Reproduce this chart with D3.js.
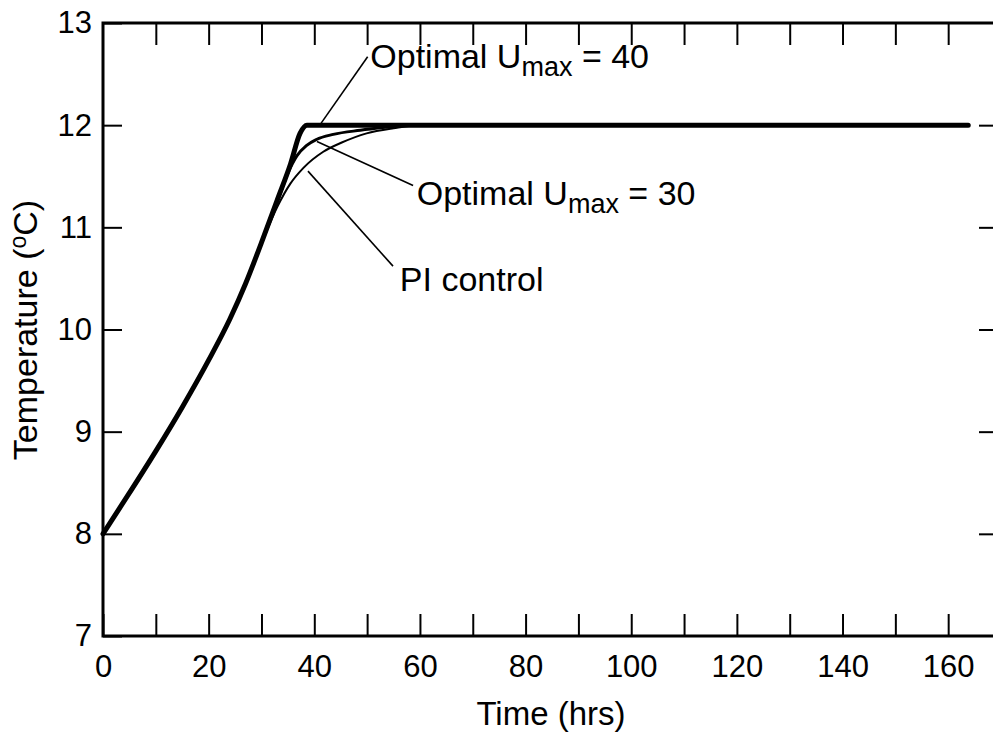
<!DOCTYPE html>
<html>
<head>
<meta charset="utf-8">
<script src="https://cdn.jsdelivr.net/npm/d3@7"></script>
<style>
  body { margin: 0; background: #fff; }
  svg { display: block; font-family: 'Liberation Sans', Arial, Helvetica, sans-serif; }
</style>
</head>
<body>
<svg id="chart"></svg>
<script>
// data: time (hrs) -> temperature (oC)
const optimal40Time = [0, 5, 10, 15, 20, 24, 27, 30, 33, 35.5, 37.3, 38.6, 50, 80, 110, 140, 163.8];
const optimal40Temp = [8, 8.4, 8.81, 9.24, 9.7, 10.1, 10.45, 10.85, 11.27, 11.62, 11.92, 12.0, 12.0, 12.0, 12.0, 12.0, 12.0];

const optimal30Time = [0, 5, 10, 15, 20, 24, 27, 30, 33, 35, 36.7, 38.5, 40.4, 43.6, 48.7, 53.7, 57.5, 80, 163.8];
const optimal30Temp = [8, 8.4, 8.81, 9.24, 9.7, 10.1, 10.45, 10.85, 11.25, 11.53, 11.7, 11.8, 11.86, 11.91, 11.95, 11.98, 12.0, 12.0, 12.0];

const piTime = [0, 5, 10, 15, 20, 24, 27, 30, 33, 35.5, 37.9, 41.7, 45.2, 49.9, 55, 60, 80, 163.8];
const piTemp = [8, 8.4, 8.81, 9.24, 9.7, 10.1, 10.45, 10.84, 11.2, 11.43, 11.58, 11.74, 11.83, 11.92, 11.97, 12.0, 12.0, 12.0];

const xTicks = d3.range(0, 170, 10);
const yTicks = [7, 8, 9, 10, 11, 12, 13];

// annotation leaders: [time, temp] of line start/end and label anchor
const notes = [
  { main: 'Optimal U', sub: 'max', tail: ' = 40', from: [41.3, 12.02], to: [50.1, 12.67], at: [50.6, 12.56] },
  { main: 'Optimal U', sub: 'max', tail: ' = 30', from: [40.5, 11.84], to: [58.7, 11.41], at: [59.4, 11.22] },
  { main: 'PI control', sub: '', tail: '', from: [38.8, 11.55], to: [54.9, 10.62], at: [56.2, 10.38] },
];

const width = 993, height = 742;
const svg = d3.select('#chart').attr('width', width).attr('height', height);

const x = d3.scaleLinear().domain([0, 170]).range([103, 1001]);
const y = d3.scaleLinear().domain([7, 13]).range([636, 23]);

// frame (right edge falls just outside the picture)
svg.append('rect')
  .attr('x', x(0)).attr('y', y(13))
  .attr('width', x(170) - x(0)).attr('height', y(7) - y(13))
  .attr('fill', 'none').attr('stroke', '#000').attr('stroke-width', 3);

const fmtX = (d) => (d % 20 === 0 ? d : '');

const axisB = svg.append('g')
  .attr('transform', `translate(0, ${y(7)})`)
  .call(d3.axisBottom(x).tickValues(xTicks).tickSizeInner(-22).tickSizeOuter(0).tickPadding(19).tickFormat(fmtX));

const axisT = svg.append('g')
  .attr('transform', `translate(0, ${y(13)})`)
  .call(d3.axisTop(x).tickValues(xTicks.slice(1)).tickSizeInner(-22).tickSizeOuter(0).tickFormat(''));

const axisL = svg.append('g')
  .attr('transform', `translate(${x(0)}, 0)`)
  .call(d3.axisLeft(y).tickValues(yTicks).tickSizeInner(-19).tickSizeOuter(0).tickPadding(11).tickFormat(d3.format('d')));

const axisR = svg.append('g')
  .attr('transform', `translate(${x(170)}, 0)`)
  .call(d3.axisRight(y).tickValues(yTicks.slice(1, -1)).tickSizeInner(-22).tickSizeOuter(0).tickFormat(''));

[axisB, axisT, axisL, axisR].forEach((g) => {
  g.attr('font-family', null);
  g.select('.domain').remove();
  g.selectAll('.tick line').attr('stroke', '#000').attr('stroke-width', 2);
  g.selectAll('.tick text').attr('font-size', 31).attr('fill', '#000');
});

// axis titles
svg.append('text')
  .attr('x', 551).attr('y', 725)
  .attr('text-anchor', 'middle')
  .attr('font-size', 33)
  .text('Time (hrs)');

const yTitle = svg.append('text')
  .attr('transform', 'translate(37, 330) rotate(-90)')
  .attr('text-anchor', 'middle')
  .attr('font-size', 34);
yTitle.append('tspan').text('Temperature (');
yTitle.append('tspan').attr('font-size', 23).attr('dy', -11).text('o');
yTitle.append('tspan').attr('dy', 11).text('C)');

// curves
const line = d3.line()
  .x((d) => x(d[0]))
  .y((d) => y(d[1]))
  .curve(d3.curveMonotoneX);

const series = [
  { time: piTime, temp: piTemp, w: 2 },
  { time: optimal30Time, temp: optimal30Temp, w: 3 },
  { time: optimal40Time, temp: optimal40Temp, w: 5 },
];

series.forEach((s) => {
  svg.append('path')
    .datum(s.time.map((t, i) => [t, s.temp[i]]))
    .attr('d', line)
    .attr('fill', 'none')
    .attr('stroke', '#000')
    .attr('stroke-width', s.w)
    .attr('stroke-linejoin', 'round')
    .attr('stroke-linecap', 'round');
});

// annotations
notes.forEach((n) => {
  svg.append('line')
    .attr('x1', x(n.from[0])).attr('y1', y(n.from[1]))
    .attr('x2', x(n.to[0])).attr('y2', y(n.to[1]))
    .attr('stroke', '#000').attr('stroke-width', 1.6);

  const t = svg.append('text')
    .attr('x', x(n.at[0])).attr('y', y(n.at[1]))
    .attr('font-size', 34);
  t.append('tspan').text(n.main);
  if (n.sub) {
    t.append('tspan').attr('font-size', 27).attr('dy', 8).text(n.sub);
    t.append('tspan').attr('dy', -8).text(n.tail);
  }
});
</script>
</body>
</html>
